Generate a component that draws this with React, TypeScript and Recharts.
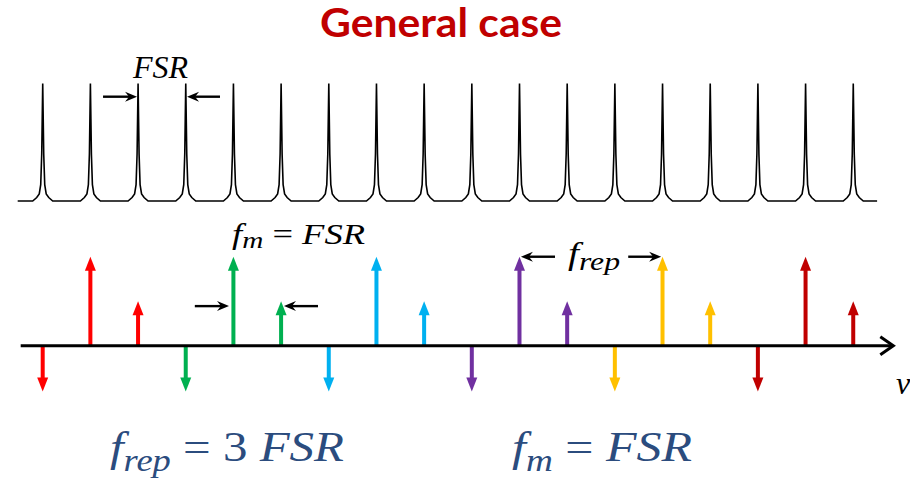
import React from "react";
import { Bar, ComposedChart, Line, ReferenceLine, XAxis, YAxis } from "recharts";

// resonance centres of the cavity comb, in units of FSR
const RESONANCES = [0, 1, 2, 3, 4, 5, 6, 7, 8, 9, 10, 11, 12, 13, 14, 15, 16, 17];
// shape of one resonance: offset (FSR) and relative height
const PEAK_OFFSETS = [-0.21, -0.126, -0.073, -0.042, -0.021, -0.0105, 0, 0.0105, 0.021, 0.042, 0.073, 0.126, 0.21];
const PEAK_HEIGHTS = [0, 0.03, 0.06, 0.14, 0.4, 0.7, 1, 0.7, 0.4, 0.14, 0.06, 0.03, 0];
const COMB_START = -0.525;
const COMB_END = 17.5;

// modulated comb lines: position (FSR), amplitude, colour group
const LINE_POS = [0, 1, 2, 3, 4, 5, 6, 7, 8, 9, 10, 11, 12, 13, 14, 15, 16, 17];
const LINE_AMP = [-1.03, 2, 1, -1.03, 2, 1, -1.03, 2, 1, -1.03, 2, 1, -1.03, 2, 1, -1.03, 2, 1];
const LINE_GROUP = [0, 0, 0, 1, 1, 1, 2, 2, 2, 3, 3, 3, 4, 4, 4, 5, 5, 5];

// frequency axis extent and annotation arrows (FSR units)
const AXIS_START = -0.462;
const AXIS_END = 17.84;
const FSR_ARROWS = [
  { from: 1.265, to: 1.978, y: 0.888 },
  { from: 3.718, to: 3.027, y: 0.888 },
];
const FM_ARROWS = [
  { from: 3.19, to: 3.907, y: 0.89 },
  { from: 5.774, to: 5.06, y: 0.89 },
];
const FREP_ARROWS = [
  { from: 10.745, to: 10.03, y: 2.0 },
  { from: 12.28, to: 12.97, y: 2.0 },
];

const GROUP_COLORS = ["#ff0000", "#00b050", "#00b0f0", "#7030a0", "#ffc000", "#c00000"];
const BLUE = "#2b4c7e";
const SERIF = "'Liberation Serif', 'Times New Roman', serif";

const lineData = LINE_POS.map((x, i) => ({ x, amp: LINE_AMP[i], group: LINE_GROUP[i] }));
const combData = [
  { x: COMB_START, y: 0 },
  ...RESONANCES.flatMap((c) => PEAK_OFFSETS.map((o, k) => ({ x: c + o, y: PEAK_HEIGHTS[k] }))),
  { x: COMB_END, y: 0 },
];

function Spike(props: any) {
  const { x, y, width, height, payload } = props;
  if (x == null || y == null) return null;
  const color = GROUP_COLORS[payload.group];
  const cx = x + width / 2;
  const top = Math.min(y, y + height);
  const bottom = Math.max(y, y + height);
  const up = payload.amp > 0;
  const tip = up ? top : bottom;
  const base = up ? bottom : top;
  const d = up ? 1 : -1;
  const H = 14;
  const HW = 5.5;
  const SW = 4;
  return (
    <g>
      <rect
        x={cx - SW / 2}
        y={up ? tip + H - 1 : base}
        width={SW}
        height={Math.max(0, Math.abs(base - tip) - H + 1)}
        fill={color}
      />
      <path d={`M${cx},${tip} L${cx + HW},${tip + d * H} L${cx - HW},${tip + d * H} Z`} fill={color} />
    </g>
  );
}

function Pointer(props: any) {
  const { x1, y1, x2, y2 } = props;
  const dir = Math.sign(x2 - x1);
  const L = 12;
  const W = 5;
  const N = 8;
  return (
    <g>
      <line x1={x1} y1={y1} x2={x2 - dir * N} y2={y2} stroke="#000" strokeWidth={2.4} />
      <path
        d={`M${x2},${y2} L${x2 - dir * L},${y2 - W} L${x2 - dir * N},${y2} L${x2 - dir * L},${y2 + W} Z`}
        fill="#000"
      />
    </g>
  );
}

function AxisArrow(props: any) {
  const { x1, y1, x2, y2 } = props;
  return (
    <g>
      <line x1={x1} y1={y1} x2={x2 - 1} y2={y2} stroke="#000" strokeWidth={3} />
      <polyline
        points={`${x2 - 13},${y2 - 9} ${x2},${y2} ${x2 - 13},${y2 + 9}`}
        fill="none"
        stroke="#000"
        strokeWidth={3}
      />
    </g>
  );
}

export default function App() {
  return (
    <div style={{ position: "absolute", left: 0, top: 0, width: 910, height: 483, background: "#fff" }}>
      <ComposedChart width={910} height={483} data={lineData} margin={{ top: 0, right: 0, bottom: 0, left: 0 }}>
        <XAxis dataKey="x" type="number" domain={[-0.896, 18.19]} ticks={LINE_POS} allowDataOverflow hide />
        <YAxis yAxisId="comb" type="number" domain={[-2.4, 1.711]} allowDataOverflow hide />
        <YAxis yAxisId="spikes" type="number" domain={[-3.085, 7.769]} allowDataOverflow hide />
        <Line
          yAxisId="comb"
          data={combData}
          dataKey="y"
          type="linear"
          stroke="#000"
          strokeWidth={1.6}
          dot={false}
          activeDot={false}
          isAnimationActive={false}
        />
        <ReferenceLine
          yAxisId="spikes"
          segment={[{ x: AXIS_START, y: 0 }, { x: AXIS_END, y: 0 }]}
          shape={AxisArrow}
        />
        <Bar yAxisId="spikes" dataKey="amp" barSize={4} shape={Spike} isAnimationActive={false} />
        {FSR_ARROWS.map((a, i) => (
          <ReferenceLine
            key={"fsr" + i}
            yAxisId="comb"
            segment={[{ x: a.from, y: a.y }, { x: a.to, y: a.y }]}
            shape={Pointer}
          />
        ))}
        {[...FM_ARROWS, ...FREP_ARROWS].map((a, i) => (
          <ReferenceLine
            key={"sp" + i}
            yAxisId="spikes"
            segment={[{ x: a.from, y: a.y }, { x: a.to, y: a.y }]}
            shape={Pointer}
          />
        ))}
      </ComposedChart>
      <svg
        width={910}
        height={483}
        style={{ position: "absolute", left: 0, top: 0, pointerEvents: "none" }}
      >
        <text
          x={441}
          y={37}
          textAnchor="middle"
          fontFamily="Lato, 'Open Sans', sans-serif"
          fontWeight={700}
          fontSize={40}
          fill="#c00000"
          textLength={242}
          lengthAdjust="spacingAndGlyphs"
        >
          General case
        </text>
        <text x={133} y={78} fontFamily={SERIF} fontStyle="italic" fontSize={32} fill="#000">
          FSR
        </text>
        <text
          x={232}
          y={244}
          fontFamily={SERIF}
          fontSize={30}
          fill="#000"
          textLength={133}
          lengthAdjust="spacingAndGlyphs"
        >
          <tspan fontStyle="italic">f</tspan>
          <tspan fontStyle="italic" fontSize={24} dy={4}>m</tspan>
          <tspan dy={-4}> = </tspan>
          <tspan fontStyle="italic">FSR</tspan>
        </text>
        <text
          x={568}
          y={264}
          fontFamily={SERIF}
          fontSize={31}
          fill="#000"
          textLength={52}
          lengthAdjust="spacingAndGlyphs"
        >
          <tspan fontStyle="italic">f</tspan>
          <tspan fontStyle="italic" fontSize={25} dy={6}>rep</tspan>
        </text>
        <text x={896} y={394} fontFamily={SERIF} fontStyle="italic" fontSize={32} fill="#000">
          ν
        </text>
        <text
          x={110}
          y={461}
          fontFamily={SERIF}
          fontSize={43}
          fill={BLUE}
          textLength={234}
          lengthAdjust="spacingAndGlyphs"
        >
          <tspan fontStyle="italic">f</tspan>
          <tspan fontStyle="italic" fontSize={32} dy={10}>rep</tspan>
          <tspan dy={-10}> = 3 </tspan>
          <tspan fontStyle="italic">FSR</tspan>
        </text>
        <text
          x={512}
          y={461}
          fontFamily={SERIF}
          fontSize={43}
          fill={BLUE}
          textLength={180}
          lengthAdjust="spacingAndGlyphs"
        >
          <tspan fontStyle="italic">f</tspan>
          <tspan fontStyle="italic" fontSize={32} dy={10}>m</tspan>
          <tspan dy={-10}> = </tspan>
          <tspan fontStyle="italic">FSR</tspan>
        </text>
      </svg>
    </div>
  );
}
